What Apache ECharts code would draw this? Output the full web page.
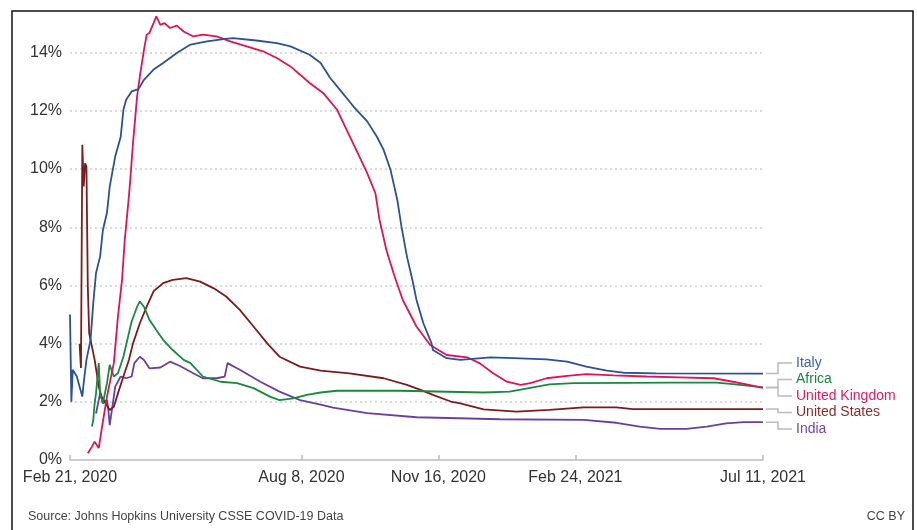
<!DOCTYPE html>
<html>
<head>
<meta charset="utf-8">
<script src="https://cdn.jsdelivr.net/npm/echarts@6/dist/echarts.min.js"></script>
<style>
html,body{margin:0;padding:0;background:#fff;}
#chart{width:917px;height:530px;}
</style>
</head>
<body>
<div id="chart"></div>
<script>
// x = days since Feb 21, 2020 ; y = case fatality rate (%)
const tickDays = [0, 169, 269, 369, 506];
const tickLabels = ['Feb 21, 2020', 'Aug 8, 2020', 'Nov 16, 2020', 'Feb 24, 2021', 'Jul 11, 2021'];
const yTicks = [0, 2, 4, 6, 8, 10, 12, 14];

const seriesNames = ['Italy', 'Africa', 'United Kingdom', 'United States', 'India'];

const italy = [[0,5.0],[1,2.0],[2,3.1],[5,2.87],[7,2.52],[9,2.18],[10,2.65],[12,3.44],[15,4.13],[17,5.4],[19,6.43],[22,7.0],[24,7.9],[27,8.5],[29,9.4],[33,10.43],[37,11.1],[39,12.04],[41,12.38],[45,12.67],[50,12.75],[54,13.07],[61,13.42],[68,13.65],[78,13.99],[88,14.28],[100,14.39],[112,14.47],[119,14.5],[136,14.42],[151,14.33],[161,14.22],[175,13.93],[183,13.65],[190,13.13],[197,12.73],[207,12.15],[217,11.64],[224,11.12],[229,10.66],[234,9.98],[239,8.94],[242,8.03],[246,7.0],[250,6.19],[253,5.5],[258,4.7],[264,4.01],[265,3.78],[275,3.5],[285,3.44],[307,3.53],[324,3.5],[348,3.46],[363,3.38],[377,3.21],[392,3.07],[404,3.0],[428,2.98],[506,2.97]];

const africa = [[16,1.15],[17,1.38],[18,1.95],[19,2.29],[21,3.33],[22,2.29],[24,1.95],[27,2.64],[29,3.27],[32,2.87],[35,2.98],[39,3.55],[43,4.36],[45,4.76],[49,5.27],[51,5.45],[54,5.27],[58,4.82],[63,4.47],[68,4.13],[75,3.78],[83,3.44],[88,3.33],[97,2.87],[110,2.69],[122,2.64],[134,2.47],[146,2.18],[153,2.06],[163,2.12],[173,2.24],[183,2.32],[195,2.38],[241,2.38],[302,2.32],[321,2.35],[338,2.5],[350,2.6],[368,2.64],[440,2.66],[472,2.66],[484,2.61],[496,2.55],[506,2.5]];

const uk = [[13,0.23],[16,0.46],[17,0.41],[18,0.63],[21,0.41],[23,1.03],[27,2.18],[32,3.33],[35,4.93],[38,6.19],[40,7.57],[43,9.06],[44,9.63],[46,10.9],[49,12.5],[51,13.19],[54,14.1],[56,14.62],[58,14.68],[61,15.02],[63,15.25],[66,14.96],[69,15.02],[73,14.85],[78,14.93],[83,14.73],[90,14.56],[97,14.62],[107,14.56],[117,14.39],[129,14.22],[141,14.05],[151,13.82],[161,13.53],[175,12.96],[185,12.61],[195,12.04],[202,11.35],[209,10.66],[217,9.86],[223,9.17],[226,8.26],[231,7.22],[237,6.31],[243,5.5],[253,4.59],[263,3.95],[275,3.61],[290,3.53],[299,3.33],[309,2.98],[319,2.69],[329,2.58],[336,2.64],[348,2.81],[363,2.89],[377,2.95],[397,2.91],[421,2.87],[445,2.84],[470,2.81],[484,2.69],[494,2.6],[506,2.48]];

const us = [[7,4.0],[8,3.16],[9,10.84],[10,9.4],[11,10.2],[12,10.09],[13,5.96],[14,4.36],[16,3.9],[18,3.44],[21,2.52],[23,2.18],[26,1.95],[29,1.72],[32,1.83],[35,2.29],[39,2.87],[43,3.44],[46,4.01],[51,4.7],[56,5.27],[61,5.8],[68,6.08],[75,6.19],[85,6.25],[95,6.13],[105,5.9],[114,5.62],[124,5.16],[134,4.59],[144,4.01],[153,3.55],[168,3.21],[183,3.07],[204,2.98],[229,2.81],[246,2.58],[256,2.41],[265,2.24],[278,2.01],[285,1.95],[302,1.74],[326,1.66],[350,1.72],[375,1.81],[399,1.81],[411,1.75],[506,1.75]];

const india = [[19,1.6],[22,2.3],[24,1.95],[27,2.06],[28,1.72],[29,1.2],[32,2.18],[33,2.52],[37,2.87],[41,2.81],[45,2.87],[47,3.33],[51,3.55],[54,3.44],[58,3.15],[66,3.18],[73,3.38],[80,3.24],[90,2.98],[97,2.81],[107,2.81],[113,2.87],[115,3.33],[124,3.1],[139,2.69],[153,2.35],[168,2.06],[183,1.9],[192,1.8],[217,1.61],[253,1.47],[314,1.4],[375,1.38],[399,1.28],[416,1.15],[431,1.07],[450,1.07],[465,1.15],[479,1.26],[492,1.3],[506,1.3]];

const seriesData = [italy, africa, uk, us, india];
const lineColors = ['#2b5296', '#178a3e', '#e0135a', '#7d1c1c', '#6b3fa0'];
const labelColors = ['#3a62a8', '#16893b', '#e8175f', '#8a2b2b', '#7446a8'];
const drawOrder = [4, 3, 1, 2, 0]; // India, US, Africa, UK, Italy

const chart = echarts.init(document.getElementById('chart'), null, {renderer: 'canvas'});

const series = drawOrder.map(i => ({
  name: seriesNames[i],
  type: 'line',
  data: seriesData[i],
  showSymbol: false,
  symbol: 'none',
  silent: true,
  animation: false,
  lineStyle: {color: lineColors[i], width: 1.8},
  itemStyle: {color: lineColors[i]}
}));

chart.setOption({
  animation: false,
  backgroundColor: '#fff',
  textStyle: {fontFamily: 'Liberation Sans, Arial, sans-serif'},
  grid: {left: 70, right: 154, top: 12, bottom: 70, containLabel: false},
  xAxis: {
    type: 'value',
    min: 0,
    max: 506,
    axisLine: {show: true, lineStyle: {color: '#bdbdbd', width: 1.5}},
    axisTick: {show: true, inside: true, length: 5, customValues: tickDays, lineStyle: {color: '#bdbdbd', width: 1.5}},
    axisLabel: {
      customValues: tickDays,
      formatter: v => tickLabels[tickDays.indexOf(v)] || '',
      color: '#333',
      fontSize: 16,
      margin: 10,
      fontFamily: 'Liberation Sans, Arial, sans-serif'
    },
    splitLine: {show: false}
  },
  yAxis: {
    type: 'value',
    min: 0,
    max: 15.4,
    interval: 2,
    axisLine: {show: false},
    axisTick: {show: false},
    axisLabel: {
      showMaxLabel: false,
      formatter: v => (yTicks.indexOf(v) >= 0 ? v + '%' : ''),
      color: '#333',
      fontSize: 16,
      margin: 8,
      fontFamily: 'Liberation Sans, Arial, sans-serif'
    },
    splitLine: {show: true, showMinLine: false, showMaxLine: false, lineStyle: {color: '#cfcfcf', width: 1.5, type: [2, 3]}}
  },
  series: series
});

// end labels with connectors
const gap = 16.5;
const ends = seriesNames.map((n, i) => {
  const d = seriesData[i][seriesData[i].length - 1];
  const p = chart.convertToPixel({gridIndex: 0}, d);
  return {i: i, x: p[0], y: p[1]};
});
const sorted = ends.slice().sort((a, b) => a.y - b.y);
let clusters = sorted.map(e => ({m: [e]}));
function cStart(c) {
  const mean = c.m.reduce((s, e) => s + e.y, 0) / c.m.length;
  return mean - (c.m.length - 1) * gap / 2;
}
let merged = true;
while (merged) {
  merged = false;
  for (let k = 1; k < clusters.length; k++) {
    const a = clusters[k - 1], b = clusters[k];
    if (cStart(b) < cStart(a) + a.m.length * gap) {
      a.m = a.m.concat(b.m);
      clusters.splice(k, 1);
      merged = true;
      break;
    }
  }
}
const graphics = [];
clusters.forEach(c => {
  const s = cStart(c);
  c.m.forEach((e, k) => {
    const ly = s + k * gap;
    const x0 = e.x + 3, x1 = e.x + 15, x2 = e.x + 29;
    graphics.push({
      type: 'polyline', silent: true,
      shape: {points: [[x0, e.y], [x1, e.y], [x1, ly], [x2, ly]]},
      style: {stroke: '#bbbbbb', lineWidth: 1.5, fill: null}
    });
    graphics.push({
      type: 'text', silent: true,
      x: x2 + 4, y: ly,
      style: {text: seriesNames[e.i], fill: labelColors[e.i], font: '14px "Liberation Sans", Arial, sans-serif', textAlign: 'left', textVerticalAlign: 'middle'}
    });
  });
});
graphics.push({
  type: 'text', silent: true, x: 28, y: 517,
  style: {text: 'Source: Johns Hopkins University CSSE COVID-19 Data', fill: '#444', font: '12.5px "Liberation Sans", Arial, sans-serif', textAlign: 'left', textVerticalAlign: 'middle'}
});
graphics.push({
  type: 'text', silent: true, x: 905, y: 517,
  style: {text: 'CC BY', fill: '#444', font: '12.5px "Liberation Sans", Arial, sans-serif', textAlign: 'right', textVerticalAlign: 'middle'}
});
graphics.push({
  type: 'rect', silent: true,
  shape: {x: 12, y: 11, width: 901, height: 540},
  style: {stroke: '#111', lineWidth: 1.5, fill: null}
});
chart.setOption({graphic: graphics});
</script>
</body>
</html>
